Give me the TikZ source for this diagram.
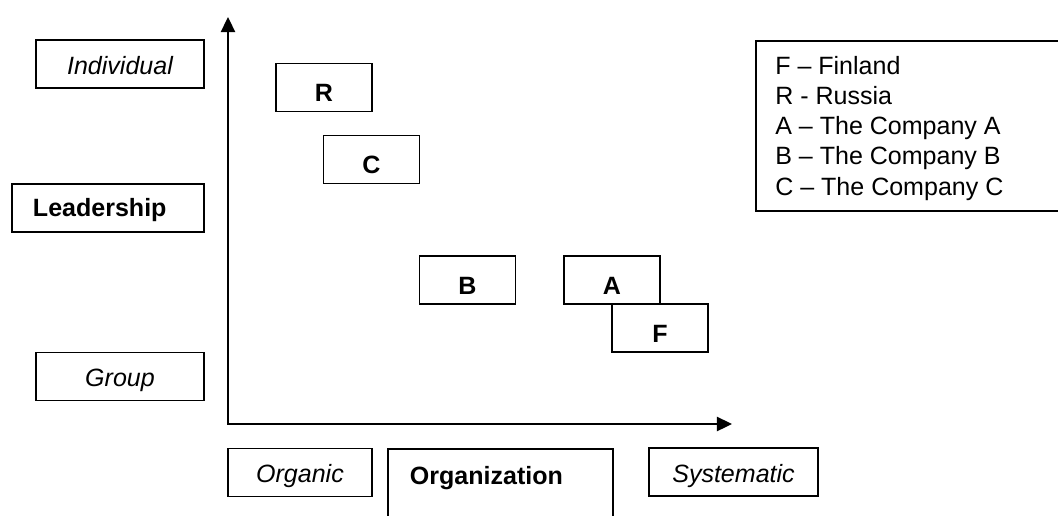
\documentclass[tikz,border=0pt]{standalone}
\usepackage{fontspec}
\setmainfont{Liberation Sans}
\usepackage{tikz}
\usetikzlibrary{arrows.meta}
\newcommand{\boxfont}{\fontsize{17.8}{21.34}\selectfont}
\tikzset{
	wordbox/.style={draw, line width=1.2pt, minimum height=1.2cm, text height=0.52cm, text depth=0pt, inner sep=0pt, font=\boxfont\itshape},
	namebox/.style={draw, line width=1.2pt, minimum height=1.2cm, text height=0.44cm, text depth=0pt, inner ysep=0pt, align=left, font=\boxfont\bfseries},
	letterbox/.style={draw, line width=1.2pt, minimum width=2.4cm, minimum height=1.2cm, text height=0.71cm, text depth=0pt, inner sep=0pt, font=\boxfont\bfseries},
}

\begin{document}
\begin{tikzpicture}[x=0.025cm, y=-0.025cm]
	\clip (0,0) rectangle (1058,515);
	
	\coordinate (O) at (228,424);
	\coordinate (Ytip) at (228,17);
	\coordinate (Xtip) at (732,424);
	
	\draw[line width=1.1pt, {Triangle[length=0.38cm, width=0.36cm]}-{Triangle[length=0.38cm, width=0.36cm]}] (Ytip) -- (O) -- (Xtip);
	
	\node (individual) at (120,64) [wordbox, minimum width=4.2cm] {Individual};
	\node (leadership) at (108,208) [namebox, inner xsep=0.525cm, text width=3.75cm] {Leadership};
	\node (group) at (120,376.5) [wordbox, minimum width=4.2cm] {Group};
	
	\node (organic) at (300,472.5) [wordbox, minimum width=3.6cm] {Organic};
	\node (organization) at (500.5,448) [namebox, anchor=north, inner xsep=0.55cm, text width=4.525cm, text height=0.9cm, text depth=2cm, minimum height=0pt] {Organization};
	\node (systematic) at (733.5,472) [wordbox, minimum width=4.225cm] {Systematic};
	
	\node (R) at (324,87.5) [letterbox] {R};
	\node (C) at (371.5,159.5) [letterbox] {C};
	\node (B) at (467.5,280) [letterbox] {B};
	\node (A) at (612,280) [letterbox] {A};
	\node (F) at (660,328) [letterbox] {F};
	
	\node (legend) at (755,40) [draw, line width=1.2pt, anchor=north west, minimum width=8cm, minimum height=4.25cm] {};
	% base of a multi-line node is its last line
	\node (key) at (775,195) [anchor=base west, align=left, inner sep=0pt, font=\boxfont] {F -- Finland\\R - Russia\\A -- The Company A\\B -- The Company B\\C -- The Company C};
\end{tikzpicture}
\end{document}
